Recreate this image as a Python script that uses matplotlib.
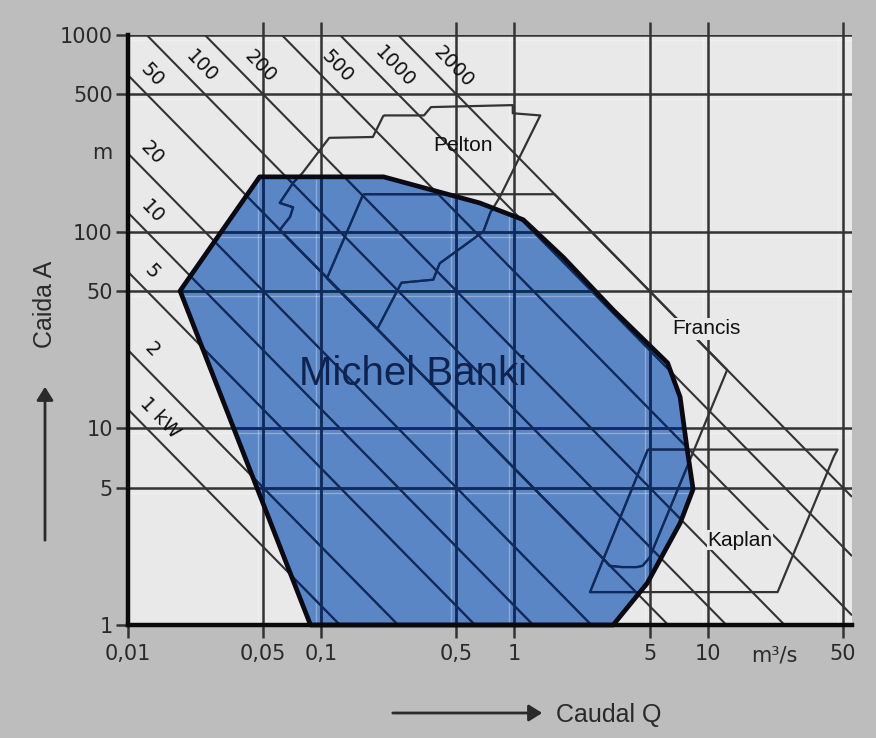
import numpy as np
import matplotlib.pyplot as plt
from matplotlib.patches import Polygon, FancyArrowPatch
from matplotlib.transforms import offset_copy

plt.rcParams['font.family'] = ['Liberation Sans', 'DejaVu Sans']

# iso-power lines (kW), H = P / (K * Q)
power_kw = [1, 2, 5, 10, 20, 50, 100, 200, 500, 1000, 2000]
power_labels = ['1 kW', '2', '5', '10', '20', '50', '100', '200', '500', '1000', '2000']
K = 8.0

# turbine application ranges (Q in m3/s, H in m)
banki_q = [0.048, 0.21, 0.66, 1.11, 1.79, 3.24, 6.2, 7.2, 7.8, 8.4, 7.2, 4.86, 3.24, 0.088, 0.0186]
banki_h = [190, 190, 140, 115, 74, 40, 21.5, 14.4, 8.0, 4.9, 3.3, 1.63, 1.0, 1.0, 50]

pelton_q = [0.21, 0.34, 0.37, 0.98, 0.98, 1.36, 0.84, 0.75, 0.69, 0.41, 0.38, 0.26,
            0.195, 0.061, 0.069, 0.0715, 0.061, 0.0715, 0.08, 0.11, 0.185]
pelton_h = [390, 390, 430, 440, 400, 390, 150, 125, 100, 69, 57, 55,
            32, 102, 119, 133, 140, 177, 199, 300, 303]

francis_q = [0.165, 1.61, 12.6, 5.0, 4.6, 4.3, 3.6, 3.1, 2.9, 0.107]
francis_h = [155, 155, 19.8, 2.2, 2.0, 1.97, 1.97, 2.0, 2.16, 58]

kaplan_q = [4.9, 47, 45, 23, 2.46]
kaplan_h = [7.8, 7.8, 7.2, 1.47, 1.47]

x_ticks = [0.01, 0.05, 0.1, 0.5, 1, 5, 10, 50]
x_ticklabels = ['0,01', '0,05', '0,1', '0,5', '1', '5', '10', '50']
y_ticks = [1, 5, 10, 50, 100, 500, 1000]
y_ticklabels = ['1', '5', '10', '50', '100', '500', '1000']

OUTER = '#bdbdbd'
INNER = '#e9e9e9'
BLUE = '#5a86c6'
NAVY = '#0c2a62'
GREY = '#333333'
TXT = '#2a2a2a'

fig = plt.figure(figsize=(8.76, 7.38), dpi=100, facecolor=OUTER)
ax = fig.add_axes([128 / 876, 113 / 738, 724 / 876, 590 / 738])
ax.set_facecolor(INNER)
ax.set_xscale('log')
ax.set_yscale('log')
ax.set_xlim(0.01, 55.8)
ax.set_ylim(1, 1000)

banki = Polygon(np.column_stack([banki_q, banki_h]), closed=True,
                facecolor=BLUE, edgecolor='none', zorder=1)
ax.add_patch(banki)


def draw(x, y, lw=1.5, z=3, outside=False):
    # grey everywhere, navy where it lies under the blue area
    ax.plot(x, y, color=GREY, lw=lw, zorder=z, clip_on=not outside,
            solid_capstyle='butt')
    ln, = ax.plot(x, y, color=NAVY, lw=lw, zorder=z + 0.5, solid_capstyle='butt')
    ln.set_clip_path(banki)


# grid, with the faint light highlight next to each line
below = offset_copy(ax.transData, fig=fig, x=0, y=-5, units='dots')
left = offset_copy(ax.transData, fig=fig, x=-5, y=0, units='dots')
for xv in x_ticks[1:]:
    ax.plot([xv, xv], [1, 1000], color='white', lw=1.0, alpha=0.3, zorder=1.5,
            transform=left)
    draw([xv, xv], [1, 1160], lw=1.8, z=2, outside=True)
for yv in y_ticks[1:]:
    ax.plot([0.01, 55.8], [yv, yv], color='white', lw=1.0, alpha=0.3, zorder=1.5,
            transform=below)
    draw([0.01, 55.8], [yv, yv], lw=1.8, z=2)

# power lines
q_end = np.array([0.01, 55.8])
for p in power_kw:
    draw(q_end, p / (K * q_end), lw=1.5)

# turbine outlines
for qs, hs in [(pelton_q, pelton_h), (francis_q, francis_h), (kaplan_q, kaplan_h)]:
    draw(qs + qs[:1], hs + hs[:1], lw=1.6, z=5)

ax.add_patch(Polygon(np.column_stack([banki_q, banki_h]), closed=True,
                     facecolor='none', edgecolor='#0a0a14', lw=3.4,
                     joinstyle='round', zorder=8, clip_on=False))

# power labels
for p, lab in zip(power_kw, power_labels):
    if p <= 50:
        q = 0.0147 if p == 1 else 0.0133
        h = p / (6.0 * q)
    else:
        h = 690
        q = p / (6.0 * h)
    ax.text(q, h, lab, rotation=-46, ha='center', va='center', fontsize=14,
            family='DejaVu Sans', color='#111111', zorder=9, rotation_mode='anchor')

ax.text(0.54, 275, 'Pelton', fontsize=15, color='#111111', ha='center', va='center',
        zorder=9)
ax.text(9.8, 32, 'Francis', fontsize=15, color='#111111', ha='center', va='center',
        zorder=9, bbox=dict(facecolor=INNER, edgecolor='none', pad=1.0))
ax.text(14.7, 2.7, 'Kaplan', fontsize=15, color='#111111', ha='center', va='center',
        zorder=9, bbox=dict(facecolor=INNER, edgecolor='none', pad=0.5))
ax.text(0.3, 19, 'Michel Banki', fontsize=29, color='#0f2350', ha='center', va='center',
        zorder=9)

# axes
for s in ['top', 'right']:
    ax.spines[s].set_visible(False)
for s in ['left', 'bottom']:
    ax.spines[s].set_linewidth(3.2)
    ax.spines[s].set_color('#0a0a0a')
    ax.spines[s].set_zorder(10)

ax.set_xticks(x_ticks)
ax.set_xticklabels(x_ticklabels, family='DejaVu Sans')
ax.set_yticks(y_ticks)
ax.set_yticklabels(y_ticklabels, family='DejaVu Sans')
ax.minorticks_off()
ax.tick_params(axis='both', direction='out', length=9, width=1.8, color=GREY,
               labelsize=15, labelcolor=TXT)
ax.tick_params(axis='x', pad=5)
ax.tick_params(axis='y', pad=2)

ax.text(-0.022, 250, 'm', transform=ax.get_yaxis_transform(), ha='right', va='center',
        fontsize=15, family='DejaVu Sans', color=TXT)
ax.text(22, -0.051, 'm³/s', transform=ax.get_xaxis_transform(), ha='center', va='center',
        fontsize=15, family='DejaVu Sans', color=TXT)

# axis titles with arrows
fig.text(45 / 876, 1 - 304 / 738, 'Caida A', rotation=90, ha='center', va='center',
         fontsize=18, color=TXT)
fig.patches.append(FancyArrowPatch(
    (45 / 876, 1 - 543 / 738), (45 / 876, 1 - 384 / 738), transform=fig.transFigure,
    arrowstyle='-|>,head_length=8,head_width=5', lw=2, color=TXT))
fig.text(556 / 876, 1 - 715 / 738, 'Caudal Q', ha='left', va='center',
         fontsize=18, color=TXT)
fig.patches.append(FancyArrowPatch(
    (390 / 876, 1 - 713 / 738), (545 / 876, 1 - 713 / 738), transform=fig.transFigure,
    arrowstyle='-|>,head_length=8,head_width=5', lw=2, color=TXT))

fig.savefig('out.png', dpi=100, facecolor=OUTER)
